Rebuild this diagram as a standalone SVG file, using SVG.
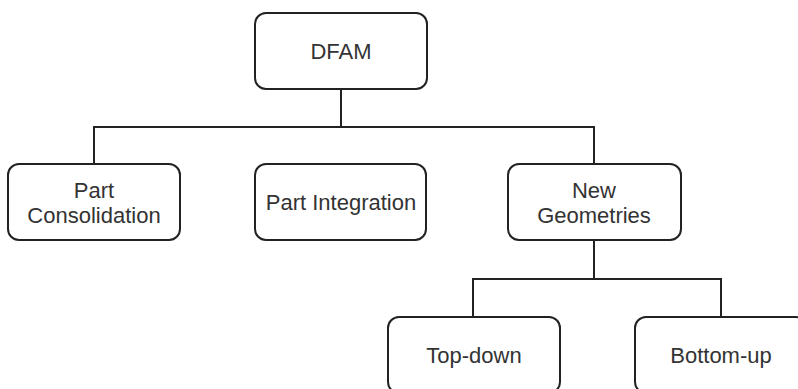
<svg xmlns="http://www.w3.org/2000/svg" width="798" height="389" viewBox="0 0 798 389">
<style>
.box{fill:#fff;stroke:#222;stroke-width:2}
.lbl{font-family:"Liberation Sans",Arial,sans-serif;font-size:22px;fill:#333;text-anchor:middle}
.con{fill:none;stroke:#222;stroke-width:2}
</style>
<rect width="798" height="389" fill="#fff"/>
<g id="connectors">
<path class="con" d="M341 89V127M94 164V127H594V164"/>
<path class="con" d="M594 240V279M473 317V279H721V317"/>
</g>
<g id="dfam"><rect class="box" x="255" y="13" width="172" height="76" rx="11"/><text class="lbl" x="341" y="59">DFAM</text></g>
<g id="part-consolidation"><rect class="box" x="8" y="164" width="172" height="76" rx="11"/><text class="lbl" x="94" y="198">Part</text><text class="lbl" x="94" y="223">Consolidation</text></g>
<g id="part-integration"><rect class="box" x="255" y="164" width="171" height="76" rx="11"/><text class="lbl" x="341" y="210">Part Integration</text></g>
<g id="new-geometries"><rect class="box" x="508" y="164" width="173" height="76" rx="11"/><text class="lbl" x="594" y="198">New</text><text class="lbl" x="594" y="223">Geometries</text></g>
<g id="top-down"><rect class="box" x="388" y="317" width="172" height="76" rx="11"/><text class="lbl" x="474" y="363">Top-down</text></g>
<g id="bottom-up"><rect class="box" x="635" y="317" width="172" height="76" rx="11"/><text class="lbl" x="721" y="363">Bottom-up</text></g>
</svg>
